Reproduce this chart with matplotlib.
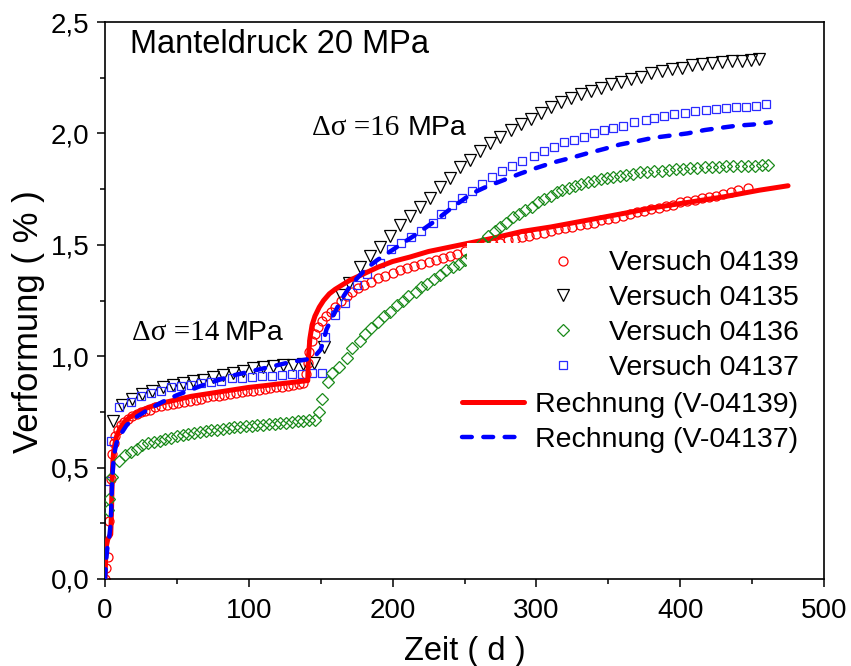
import matplotlib
matplotlib.use("Agg")
import matplotlib.pyplot as plt
from matplotlib.patches import Rectangle
from matplotlib.ticker import FuncFormatter, MultipleLocator

plt.rcParams['font.family'] = ['Liberation Sans', 'DejaVu Sans']

# ---------------- data ----------------
t_04139 = [0, 1, 2, 3, 4, 5, 6, 7, 9, 11, 13, 16, 19, 22, 25, 28, 31, 35, 39, 43, 47, 51, 55, 59, 63,
           67, 71, 75, 79, 83, 87, 91, 95, 99, 103, 107, 111, 115, 119, 123, 127, 131, 135, 138,
           140, 141, 142, 144, 146, 148, 151, 154, 157, 160, 164, 168, 172, 176, 180, 185, 190, 195,
           200, 205, 210, 215, 220, 225, 230, 235, 240, 245, 250, 255, 260, 265, 270, 275, 280, 285,
           290, 295, 300, 305, 310, 315, 320, 325, 330, 335, 340, 345, 350, 355, 360, 365, 370, 375,
           380, 385, 390, 395, 400, 405, 410, 415, 420, 425, 430, 435, 440, 447]
e_04139 = [0.0, 0.05, 0.10, 0.26, 0.45, 0.56, 0.61, 0.64, 0.67, 0.69, 0.705, 0.72, 0.73, 0.74, 0.75,
           0.755, 0.76, 0.77, 0.775, 0.78, 0.785, 0.79, 0.795, 0.80, 0.805, 0.81, 0.815, 0.82, 0.822,
           0.826, 0.83, 0.834, 0.838, 0.842, 0.846, 0.85, 0.853, 0.857, 0.86, 0.864, 0.868, 0.872,
           0.876, 0.88,
           0.92, 0.97, 1.02, 1.07, 1.10, 1.13, 1.16, 1.18, 1.20, 1.22, 1.25, 1.27, 1.29, 1.305, 1.32,
           1.335, 1.35, 1.36, 1.375, 1.385, 1.395, 1.405, 1.415, 1.425, 1.43, 1.44, 1.45, 1.46, 1.47,
           1.48, 1.49, 1.50, 1.505, 1.51, 1.52, 1.525, 1.535, 1.54, 1.55, 1.555, 1.56, 1.57, 1.575,
           1.58, 1.59, 1.595, 1.60, 1.61, 1.615, 1.62, 1.63, 1.64, 1.645, 1.65, 1.66, 1.665, 1.675,
           1.68, 1.69, 1.695, 1.70, 1.71, 1.715, 1.72, 1.73, 1.735, 1.745, 1.755]

t_04135 = [5.6, 12, 19, 26, 33, 40, 47, 54, 61, 68, 75, 82, 89, 96, 103, 110, 117, 124, 131, 138, 145,
           152, 164, 170, 177, 184, 191, 198, 205, 212, 219, 226, 233, 240, 247, 254, 261, 268, 275,
           282, 289, 296, 303, 310, 317, 324, 331, 338, 345, 352, 359, 366, 373, 380, 387, 394, 401,
           408, 415, 422, 429, 436, 443, 449, 455]
e_04135 = [0.71, 0.78, 0.81, 0.83, 0.845, 0.86, 0.87, 0.88, 0.89, 0.895, 0.905, 0.915, 0.925, 0.935,
           0.945, 0.95, 0.955, 0.96, 0.96, 0.965, 0.97,
           1.04, 1.275, 1.33, 1.40, 1.45, 1.49, 1.54, 1.59, 1.63, 1.67, 1.71, 1.76, 1.80, 1.85, 1.88,
           1.92, 1.955, 1.985, 2.015, 2.04, 2.065, 2.09, 2.12, 2.14, 2.16, 2.175, 2.19, 2.205, 2.22,
           2.23, 2.245, 2.255, 2.27, 2.28, 2.287, 2.295, 2.305, 2.312, 2.318, 2.32, 2.323, 2.326,
           2.33, 2.335]

t_04136 = [2, 2.5, 5, 10, 14, 18, 22, 26, 30, 34, 38, 42, 46, 50, 54, 58, 62, 66, 70, 74, 78, 82, 86,
           90, 94, 98, 102, 106, 110, 114, 118, 122, 126, 130, 134, 138, 142, 146,
           149, 151, 155, 158, 163, 168, 172, 177, 181, 185, 190, 194, 198, 203, 207, 211, 216, 220,
           224, 229, 233, 237, 242, 246, 250, 254, 258, 262, 266, 271, 275, 279, 284, 288, 292, 297,
           301, 305, 310, 314, 318, 323, 327, 331, 336, 340, 345, 349, 353, 358, 362, 367, 372, 377,
           382, 387, 392, 397, 402, 407, 412, 417, 422, 427, 432, 437, 442, 447, 452, 457, 461]
e_04136 = [0.31, 0.36, 0.46, 0.53, 0.555, 0.57, 0.585, 0.60, 0.61, 0.615, 0.62, 0.63, 0.635, 0.64,
           0.645, 0.65, 0.655, 0.66, 0.665, 0.667, 0.67, 0.673, 0.676, 0.68, 0.682, 0.685, 0.688,
           0.69, 0.692, 0.695, 0.697, 0.70, 0.702, 0.705, 0.707, 0.71, 0.712, 0.715,
           0.75, 0.81, 0.885, 0.925, 0.95, 0.99, 1.035, 1.07, 1.10, 1.125, 1.155, 1.18, 1.20, 1.23,
           1.25, 1.27, 1.29, 1.31, 1.325, 1.345, 1.365, 1.385, 1.40, 1.415, 1.43, 1.45, 1.48, 1.51,
           1.54, 1.56, 1.58, 1.60, 1.625, 1.64, 1.655, 1.67, 1.69, 1.705, 1.72, 1.735, 1.745, 1.755,
           1.765, 1.775, 1.78, 1.785, 1.795, 1.80, 1.805, 1.81, 1.815, 1.82, 1.825, 1.828, 1.83,
           1.833, 1.835, 1.838, 1.84, 1.843, 1.845, 1.847, 1.85, 1.85, 1.852, 1.853, 1.855, 1.855,
           1.855, 1.856, 1.857]

t_04137 = [3, 4, 10, 18, 25, 32, 39, 46, 53, 60, 67, 74, 81, 88, 95, 102, 109, 116, 123, 130, 137,
           144, 151, 153, 160, 167, 175, 182, 191, 199, 206, 213, 220, 228, 234, 241, 248, 255, 262,
           269, 276, 283, 290, 298, 305, 312, 319, 326, 333, 340, 347, 353, 360, 368, 376, 382, 389,
           396, 403, 410, 418, 425, 432, 439, 446, 453, 460]
e_04137 = [0.44, 0.62, 0.77, 0.795, 0.82, 0.835, 0.845, 0.86, 0.865, 0.87, 0.88, 0.885, 0.89, 0.90,
           0.90, 0.905, 0.91, 0.91, 0.915, 0.92, 0.92, 0.925, 0.925,
           1.085, 1.185, 1.24, 1.32, 1.37, 1.42, 1.48, 1.51, 1.535, 1.56, 1.60, 1.64, 1.68, 1.71,
           1.74, 1.775, 1.805, 1.83, 1.855, 1.875, 1.90, 1.92, 1.94, 1.96, 1.97, 1.985, 2.0, 2.015,
           2.025, 2.035, 2.05, 2.06, 2.07, 2.08, 2.085, 2.09, 2.10, 2.105, 2.11, 2.115, 2.12, 2.12,
           2.125, 2.13]

t_calc_04139 = [0, 0.5, 1, 2, 3, 4, 4.5, 5, 5.5, 6, 7, 8, 10, 13, 17, 22, 30, 40, 50, 60, 70, 80, 90,
                100, 110, 120, 130, 140, 141, 141.5, 142.5, 144, 146, 149, 152, 156, 160, 165, 170,
                180, 190, 200, 212, 225, 240, 255, 270, 290, 310, 335, 360, 380, 405, 430, 455, 475]
e_calc_04139 = [0.0, 0.10, 0.15, 0.18, 0.19, 0.20, 0.30, 0.45, 0.53, 0.57, 0.61, 0.64, 0.67, 0.70,
                0.725, 0.745, 0.77, 0.79, 0.805, 0.82, 0.83, 0.84, 0.85, 0.86, 0.867, 0.875, 0.882,
                0.89, 0.89, 1.00, 1.08, 1.14, 1.18, 1.22, 1.25, 1.28, 1.30, 1.32, 1.34, 1.37, 1.40,
                1.425, 1.445, 1.47, 1.49, 1.51, 1.53, 1.56, 1.58, 1.61, 1.64, 1.665, 1.69, 1.715,
                1.745, 1.765]

t_calc_04137 = [0, 1, 2, 3, 4, 5, 6, 7, 8, 10, 15, 20, 30, 40, 50, 60, 70, 80, 90, 100, 110, 120, 130,
                140, 146, 150, 152, 154, 157, 160, 165, 170, 176, 182, 189, 196, 203, 210, 216, 228,
                242, 255, 265, 277, 289, 300, 312, 324, 335, 347, 358, 370, 381, 393, 405, 417, 428,
                440, 451, 463]
e_calc_04137 = [0.0, 0.10, 0.16, 0.19, 0.25, 0.45, 0.54, 0.58, 0.61, 0.64, 0.69, 0.72, 0.76, 0.795,
                0.825, 0.85, 0.875, 0.895, 0.915, 0.93, 0.945, 0.96, 0.975, 0.985, 1.0, 1.03, 1.07,
                1.12, 1.16, 1.20, 1.26, 1.31, 1.355, 1.395, 1.43, 1.46, 1.49, 1.52, 1.545, 1.60, 1.67,
                1.73, 1.76, 1.79, 1.82, 1.845, 1.87, 1.89, 1.91, 1.93, 1.95, 1.965, 1.98, 1.99, 2.0,
                2.015, 2.025, 2.035, 2.04, 2.05]

labels_versuch = ["Versuch 04139", "Versuch 04135", "Versuch 04136", "Versuch 04137"]
labels_rechnung = ["Rechnung (V-04139)", "Rechnung (V-04137)"]
title_text = "Manteldruck 20 MPa"
xlabel_text = "Zeit ( d )"
ylabel_text = "Verformung ( % )"

# ---------------- figure ----------------
fig = plt.figure(figsize=(8.51, 6.66), dpi=100)
ax = fig.add_axes([105 / 851, 87 / 666, 719 / 851, 557 / 666])

red = '#ff0000'
blue = '#0000ff'
green = '#1a8a1a'
sq_blue = '#2a2aff'

ms_kw = dict(linestyle='none', markerfacecolor='none', markeredgewidth=0.9)
h1, = ax.plot(t_04139, e_04139, marker='o', markersize=6.5, markeredgecolor=red, zorder=2, **ms_kw)
h2, = ax.plot(t_04135, e_04135, marker='v', markersize=8, markeredgecolor='black', zorder=2, **ms_kw)
h4, = ax.plot(t_04137, e_04137, marker='s', markersize=6, markeredgecolor=sq_blue, zorder=2, **ms_kw)
l1, = ax.plot(t_calc_04139, e_calc_04139, color=red, linewidth=3.6, zorder=3,
              solid_capstyle='round')
h3, = ax.plot(t_04136, e_04136, marker='D', markersize=6, markeredgecolor=green, zorder=3.1, **ms_kw)
l2, = ax.plot(t_calc_04137, e_calc_04137, color=blue, linewidth=3.2, zorder=3.2,
              dashes=(2.2, 2.6), dash_capstyle='round')

ax.set_xlim(0, 500)
ax.set_ylim(0, 2.5)
ax.xaxis.set_major_locator(MultipleLocator(100))
ax.xaxis.set_minor_locator(MultipleLocator(50))
ax.yaxis.set_major_locator(MultipleLocator(0.5))
ax.yaxis.set_minor_locator(MultipleLocator(0.25))
ax.yaxis.set_major_formatter(FuncFormatter(lambda v, p: f"{v:.1f}".replace('.', ',')))
ax.xaxis.set_major_formatter(FuncFormatter(lambda v, p: f"{v:.0f}"))

ax.tick_params(which='both', direction='out', top=False, right=False, width=1.1)
ax.tick_params(which='major', length=6, labelsize=20, pad=8)
ax.tick_params(axis='y', which='major', pad=5)
ax.tick_params(which='minor', length=3.5)
for s in ax.spines.values():
    s.set_linewidth(1.2)

ax.set_xlabel(xlabel_text, fontsize=23.5, labelpad=8)
ax.set_ylabel(ylabel_text, fontsize=25)
ax.yaxis.set_label_coords(-0.084, 0.462)

ax.text(0.035, 0.959, title_text, transform=ax.transAxes, fontsize=23.5, va='center', ha='left')

# annotations
serif = ['Liberation Serif', 'DejaVu Serif']
ax.text(18.8, 1.073, "Δσ =14", fontsize=21, family=serif, ha='left', va='baseline')
ax.text(83.4, 1.073, "MPa", fontsize=20.5, ha='left', va='baseline')
ax.text(144, 1.993, "Δσ =16", fontsize=21, family=serif, ha='left', va='baseline')
ax.text(210.7, 1.993, "MPa", fontsize=20.5, ha='left', va='baseline')

# legend background (white, no frame)
ax.add_patch(Rectangle((0.5035, 0.349), 0.484, 0.254, transform=ax.transAxes,
                       facecolor='white', edgecolor='none', zorder=4))
ax.add_patch(Rectangle((0.488, 0.217), 0.4995, 0.133, transform=ax.transAxes,
                       facecolor='white', edgecolor='none', zorder=4))

leg1 = ax.legend([h1, h2, h3, h4], labels_versuch, loc='upper left',
                 bbox_to_anchor=(0.590, 0.600), borderaxespad=0, borderpad=0.2,
                 handlelength=2.0, handletextpad=0.6, labelspacing=0.31,
                 frameon=False, fontsize=20.5)
leg1.set_zorder(5)
ax.add_artist(leg1)
leg2 = ax.legend([l1, l2], labels_rechnung, loc='upper left',
                 bbox_to_anchor=(0.488, 0.346), borderaxespad=0, borderpad=0.2,
                 handlelength=2.2, handletextpad=0.39, labelspacing=0.31,
                 frameon=False, fontsize=20.5)
leg2.set_zorder(5)

fig.savefig("out.png", dpi=100)
